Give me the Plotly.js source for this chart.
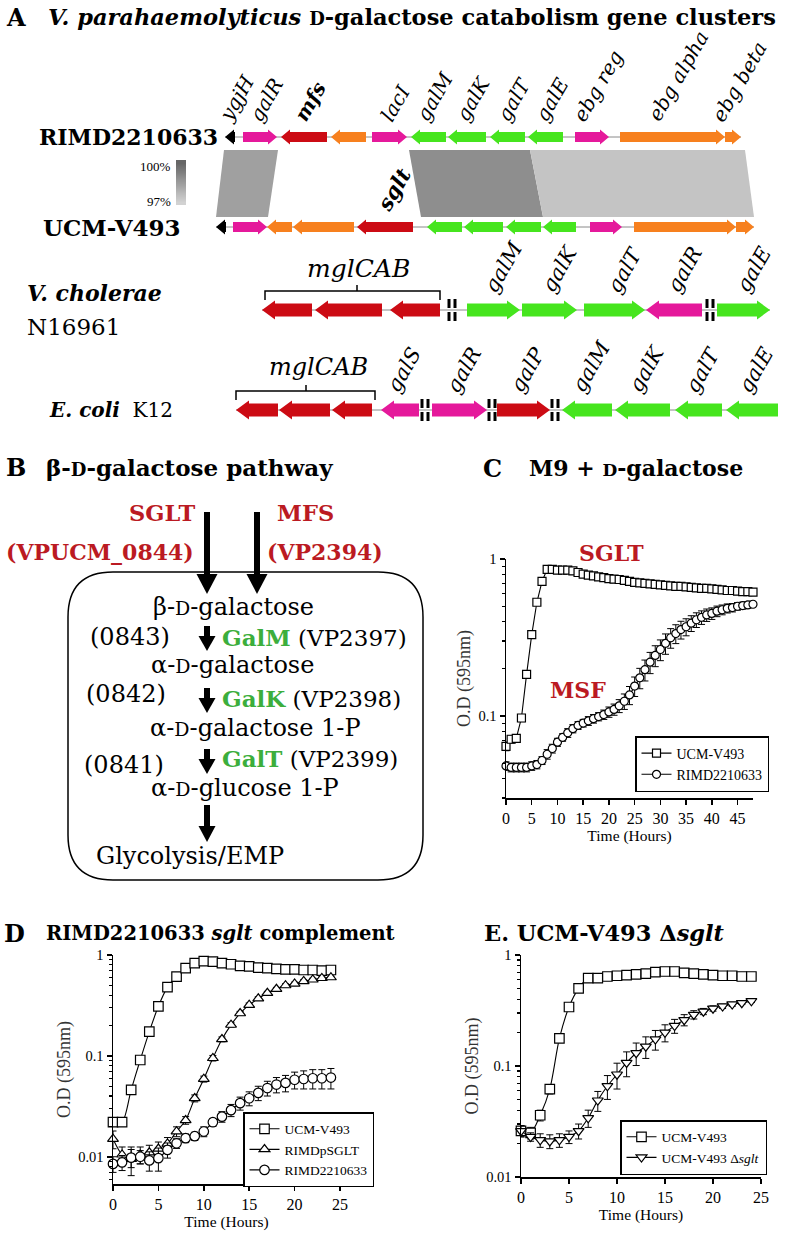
<!DOCTYPE html>
<html><head><meta charset="utf-8">
<script src="https://cdn.plot.ly/plotly-3.0.1.min.js"></script>
<style>html,body{margin:0;padding:0;background:#fff}#chart{width:787px;height:1240px}</style>
</head><body><div id="chart"></div>
<script>
// ================= DATA =================
// Panel C: M9 + D-galactose (48 h)
const hoursC = [0,1,2,3,4,5,6,7,8,9,10,11,12,13,14,15,16,17,18,19,20,21,22,23,24,25,26,27,28,29,30,31,32,33,34,35,36,37,38,39,40,41,42,43,44,45,46,47,48];
const odC_UCM = [0.064,0.071,0.072,0.097,0.184,0.33,0.53,0.72,0.86,0.86,0.85,0.85,0.85,0.84,0.82,0.80,0.79,0.78,0.77,0.76,0.75,0.745,0.74,0.73,0.72,0.71,0.705,0.70,0.695,0.69,0.685,0.68,0.675,0.67,0.67,0.665,0.66,0.655,0.65,0.65,0.645,0.64,0.635,0.63,0.63,0.625,0.62,0.62,0.615];
const errC_UCM = [0.004,0.004,0.004,0.005,0.008,0.012,0.02,0.03,0.03,0.03,0.03,0.03,0.03,0.03,0.03,0.03,0.03,0.03,0.03,0.03,0.03,0.03,0.03,0.03,0.03,0.03,0.03,0.03,0.025,0.025,0.025,0.025,0.025,0.025,0.025,0.025,0.025,0.025,0.025,0.025,0.025,0.025,0.025,0.025,0.025,0.025,0.025,0.025,0.025];
const odC_RIMD = [0.048,0.047,0.047,0.047,0.047,0.048,0.049,0.052,0.057,0.062,0.068,0.073,0.078,0.083,0.087,0.090,0.093,0.096,0.099,0.102,0.106,0.110,0.116,0.124,0.136,0.155,0.175,0.197,0.22,0.243,0.265,0.29,0.315,0.335,0.355,0.37,0.39,0.41,0.425,0.44,0.45,0.465,0.475,0.485,0.49,0.50,0.505,0.51,0.515];
const errC_RIMD = [0.003,0.003,0.003,0.003,0.003,0.003,0.003,0.003,0.004,0.004,0.004,0.004,0.005,0.005,0.005,0.005,0.006,0.006,0.006,0.007,0.008,0.009,0.011,0.014,0.018,0.022,0.026,0.03,0.034,0.037,0.04,0.043,0.045,0.046,0.046,0.046,0.045,0.044,0.042,0.04,0.038,0.036,0.034,0.032,0.03,0.028,0.026,0.025,0.024];

// Panel D: RIMD2210633 sglt complement (24 h)
const hoursD = [0,1,2,3,4,5,6,7,8,9,10,11,12,13,14,15,16,17,18,19,20,21,22,23,24];
const odD_UCM = [0.022,0.022,0.046,0.091,0.174,0.31,0.48,0.61,0.74,0.83,0.87,0.86,0.83,0.81,0.78,0.77,0.75,0.74,0.73,0.72,0.72,0.71,0.71,0.70,0.71];
const errD_UCM = [0.002,0.002,0.004,0.006,0.01,0.015,0.02,0.02,0.02,0.02,0.02,0.02,0.02,0.02,0.02,0.02,0.02,0.02,0.02,0.02,0.02,0.02,0.02,0.02,0.02];
const odD_pSGLT = [0.015,0.0105,0.0095,0.0105,0.011,0.012,0.0135,0.0178,0.023,0.038,0.059,0.095,0.146,0.203,0.264,0.32,0.37,0.42,0.46,0.50,0.52,0.55,0.57,0.59,0.60];
const errD_pSGLT = [0.003,0.002,0.003,0.002,0.002,0.002,0.002,0.002,0.002,0.003,0.004,0.006,0.008,0.01,0.012,0.014,0.015,0.016,0.017,0.018,0.018,0.018,0.018,0.018,0.018];
const odD_RIMD = [0.0085,0.0088,0.0098,0.01,0.0092,0.0097,0.0117,0.0136,0.0153,0.016,0.0178,0.022,0.025,0.029,0.034,0.038,0.043,0.048,0.052,0.054,0.058,0.059,0.06,0.06,0.061];
const errD_RIMD = [0.0015,0.0015,0.002,0.0015,0.002,0.0025,0.002,0.0015,0.0015,0.0015,0.002,0.002,0.003,0.004,0.005,0.006,0.007,0.008,0.009,0.01,0.011,0.012,0.013,0.013,0.014];

// Panel E: UCM-V493 Δsglt (24 h)
const hoursE = [0,1,2,3,4,5,6,7,8,9,10,11,12,13,14,15,16,17,18,19,20,21,22,23,24];
const odE_UCM = [0.026,0.025,0.036,0.062,0.177,0.34,0.50,0.62,0.62,0.64,0.65,0.66,0.67,0.68,0.70,0.71,0.71,0.69,0.68,0.67,0.66,0.65,0.65,0.64,0.64];
const errE_UCM = [0.003,0.003,0.004,0.006,0.01,0.02,0.03,0.02,0.02,0.02,0.02,0.02,0.02,0.02,0.02,0.02,0.02,0.02,0.02,0.02,0.02,0.02,0.02,0.02,0.02];
const odE_dSGLT = [0.026,0.023,0.0215,0.021,0.0215,0.023,0.026,0.034,0.049,0.066,0.084,0.107,0.131,0.15,0.174,0.20,0.23,0.26,0.29,0.31,0.33,0.345,0.36,0.37,0.385];
const errE_dSGLT = [0.003,0.002,0.003,0.003,0.003,0.003,0.004,0.006,0.01,0.016,0.022,0.027,0.03,0.033,0.035,0.035,0.033,0.03,0.025,0.02,0.018,0.015,0.015,0.012,0.012];

// Panel A: gene clusters (diagram coordinates)
const rimdStart = [225,243,281,331,372,411,448,490,528,575,620,725];
const rimdEnd   = [235,277,327,366,407,446,486,525,563,609,725,741];
const rimdDir   = [-1,1,-1,-1,1,-1,-1,-1,-1,1,1,1];
const rimdType  = ['misc','reg','trans','other','reg','gal','gal','gal','gal','reg','other','other'];
const rimdName  = ['ygjH','galR','mfs','','lacI','galM','galK','galT','galE','ebg reg','ebg alpha','ebg beta'];

const ucmStart = [216,233,267,293,357,427,464,506,543,590,634,736];
const ucmEnd   = [226,267,292,354,413,462,503,541,576,622,736,754];
const ucmDir   = [-1,1,-1,-1,-1,-1,-1,-1,-1,1,1,1];
const ucmType  = ['misc','reg','other','other','trans','gal','gal','gal','gal','reg','other','other'];
const ucmName  = ['','','','','sglt','','','','','','',''];

const vcStart = [262,315,390,467,522,584,646,717];
const vcEnd   = [312,382,440,520,577,645,702,770];
const vcDir   = [-1,-1,-1,1,1,1,-1,1];
const vcType  = ['trans','trans','trans','gal','gal','gal','reg','gal'];
const vcName  = ['','','','galM','galK','galT','galR','galE'];
const vcBreaks = [452,710];

const ecStart = [236,279,332,381,432,497,562,615,675,726];
const ecEnd   = [278,330,372,419,487,550,612,670,722,778];
const ecDir   = [-1,-1,-1,-1,1,1,-1,-1,-1,-1];
const ecType  = ['trans','trans','trans','reg','reg','trans','gal','gal','gal','gal'];
const ecName  = ['','','','galS','galR','galP','galM','galK','galT','galE'];
const ecBreaks = [425,492,555];

// Synteny blocks (top start/end on RIMD, bottom start/end on UCM, identity %)
const blockTopStart = [224,409,530];
const blockTopEnd   = [278,530,745];
const blockBotStart = [216,421,543];
const blockBotEnd   = [268,543,754];
const blockIdentity = [98.4,98.9,97.4];
const scaleLevels = [100,99.5,99,98.5,98,97.5,97];

// ================= STYLE =================
const SERIF = 'DejaVu Serif';
const TIMES = 'Liberation Serif';
const RED = '#bb1a22';
const GREEN = '#3cae3c';
const typeColor = {reg:'#e5199b', trans:'#cc0b14', other:'#f7801e', gal:'#46e51e', misc:'#000000'};
const grayLo = [0xd2,0xd2,0xd2], grayHi = [0x66,0x66,0x66];
function identityColor(v){
  const f = Math.max(0, Math.min(1, (v-97)/3));
  const c = grayLo.map((lo,i)=>Math.round(lo + (grayHi[i]-lo)*f));
  return `rgb(${c[0]},${c[1]},${c[2]})`;
}

const shapes = [];
const annotations = [];
function ann(x, y, text, o){
  o = o || {};
  const font = Object.assign({family:SERIF, size:24, color:'#000'}, o.font || {});
  const a = Object.assign({xref:'x4', yref:'y4', x:x, y:y, text:text, showarrow:false,
    xanchor:'center', yanchor:'middle'}, o);
  a.font = font;
  return a;
}
function arrowPath(s, e, dir, y, b, hh, hl){
  const len = e - s;
  if (len <= hl){
    return dir>0 ? `M${s},${y-hh} L${e},${y} L${s},${y+hh} Z` : `M${e},${y-hh} L${s},${y} L${e},${y+hh} Z`;
  }
  if (dir>0){
    const k = e - hl;
    return `M${s},${y-b} L${k},${y-b} L${k},${y-hh} L${e},${y} L${k},${y+hh} L${k},${y+b} L${s},${y+b} Z`;
  }
  const k = s + hl;
  return `M${e},${y-b} L${k},${y-b} L${k},${y-hh} L${s},${y} L${k},${y+hh} L${k},${y+b} L${e},${y+b} Z`;
}
function line(x0,y0,x1,y1,color,w){
  shapes.push({type:'line', xref:'x4', yref:'y4', x0:x0, y0:y0, x1:x1, y1:y1, line:{color:color, width:w}});
}
function geneRow(starts, ends, dirs, types, names, y, dims, labelSize, boldNames, dx){
  line(Math.min(...starts), y, Math.max(...ends), y, '#8a8a8a', 1);
  for (let i=0;i<starts.length;i++){
    shapes.push({type:'path', xref:'x4', yref:'y4', path:arrowPath(starts[i], ends[i], dirs[i], y, dims.b, dims.hh, dims.hl),
      fillcolor:typeColor[types[i]], line:{width:0}});
    if (names[i]){
      const bold = boldNames.indexOf(names[i])>=0;
      const t = bold ? `<b><i>${names[i]}</i></b>` : `<i>${names[i]}</i>`;
      annotations.push(ann((starts[i]+ends[i])/2 + dx, y - dims.hh - 1, t,
        {textangle:-60, xanchor:'center', yanchor:'bottom', font:{family:SERIF, size:labelSize}}));
    }
  }
}
function breaks(xs, y, half){
  xs.forEach(c=>{
    [[c-4.5,c-1.5],[c+1.5,c+4.5]].forEach(([a,b])=>{
      shapes.push({type:'rect', xref:'x4', yref:'y4', x0:a, x1:b, y0:y-half, y1:y-2, fillcolor:'#000', line:{width:0}});
      shapes.push({type:'rect', xref:'x4', yref:'y4', x0:a, x1:b, y0:y+2, y1:y+half, fillcolor:'#000', line:{width:0}});
    });
  });
}
function bracket(x0, x1, yTop, yBot, xc){
  shapes.push({type:'path', xref:'x4', yref:'y4', path:`M${x0},${yBot} L${x0},${yTop} L${x1},${yTop} L${x1},${yBot} M${xc},${yTop} L${xc},${yTop-6}`,
    line:{color:'#000', width:1.5}});
}

// ---------- Panel A ----------
const ROW1 = 137, ROW2 = 227, ROW3 = 310, ROW4 = 410;
for (let i=0;i<blockIdentity.length;i++){
  shapes.push({type:'path', xref:'x4', yref:'y4', layer:'below',
    path:`M${blockTopStart[i]},150 L${blockTopEnd[i]},150 L${blockBotEnd[i]},217 L${blockBotStart[i]},217 Z`,
    fillcolor:identityColor(blockIdentity[i]), line:{width:0}});
}
const small = {b:5, hh:7.5, hl:9};
const big = {b:6.5, hh:9.5, hl:13};
geneRow(rimdStart, rimdEnd, rimdDir, rimdType, rimdName, ROW1, small, 20, ['mfs'], 6);
geneRow(ucmStart, ucmEnd, ucmDir, ucmType, ucmName, ROW2, small, 21, ['sglt'], 8);
geneRow(vcStart, vcEnd, vcDir, vcType, vcName, ROW3, big, 21, [], 10);
geneRow(ecStart, ecEnd, ecDir, ecType, ecName, ROW4, big, 21, [], 4);
breaks(vcBreaks, ROW3, 11);
breaks(ecBreaks, ROW4, 11);
bracket(265, 440, 291, 300, 357);
bracket(236, 375, 391, 400, 306);

annotations.push(ann(4, 17, '<b>A</b>', {xanchor:'left', font:{size:24}}));
annotations.push(ann(46, 17, '<b><i>V. parahaemolyticus</i> <span style="font-size:18px">D</span>-galactose catabolism gene clusters</b>', {xanchor:'left', font:{size:22.5}}));
annotations.push(ann(220, ROW1, '<b>RIMD2210633</b>', {xanchor:'right', font:{size:22}}));
annotations.push(ann(183, ROW2, '<b>UCM-V493</b>', {xanchor:'right', font:{size:23}}));
annotations.push(ann(25, 293, '<b><i>V. cholerae</i></b>', {xanchor:'left', font:{size:22}}));
annotations.push(ann(25, 327, 'N16961', {xanchor:'left', font:{size:23}}));
annotations.push(ann(47, ROW4, '<b><i>E. coli</i></b>  K12', {xanchor:'left', font:{size:20}}));
annotations.push(ann(358, 268, '<i>mglCAB</i>', {font:{size:25}}));
annotations.push(ann(318, 367, '<i>mglCAB</i>', {font:{size:24}}));
annotations.push(ann(173, 166, '100%', {xanchor:'right', font:{family:TIMES, size:13}}));
annotations.push(ann(173, 201, '97%', {xanchor:'right', font:{family:TIMES, size:13}}));

const scaleEdges = [];
for (let i=0;i<=scaleLevels.length;i++) scaleEdges.push(160 + i*45/scaleLevels.length);

// ---------- Panel B ----------
annotations.push(ann(4, 467, '<b>B</b>', {xanchor:'left', font:{size:24}}));
annotations.push(ann(44, 467, '<b>β-<span style="font-size:18px">D</span>-galactose pathway</b>', {xanchor:'left', font:{size:23}}));
annotations.push(ann(162, 513, '<b>SGLT</b>', {font:{size:22.5, color:RED}}));
annotations.push(ann(100, 552, '<b>(VPUCM_0844)</b>', {font:{size:22, color:RED}}));
annotations.push(ann(305, 513, '<b>MFS</b>', {font:{size:22.5, color:RED}}));
annotations.push(ann(325, 552, '<b>(VP2394)</b>', {font:{size:22, color:RED}}));
shapes.push({type:'path', xref:'x4', yref:'y4', path:'M113,572 L378,572 Q423,572 423,617 L423,835 Q423,880 378,880 L113,880 Q68,880 68,835 L68,617 Q68,572 113,572 Z', line:{color:'#000', width:1.5}});
function bigArrow(x, y0, y1, hw, hlen, sw){
  shapes.push({type:'line', xref:'x4', yref:'y4', x0:x, x1:x, y0:y0, y1:y1-hlen+1, line:{color:'#000', width:sw}});
  shapes.push({type:'path', xref:'x4', yref:'y4', path:`M${x-hw},${y1-hlen} L${x+hw},${y1-hlen} L${x},${y1} Z`, fillcolor:'#000', line:{width:0}});
}
bigArrow(207, 512, 594, 10.5, 20, 6);
bigArrow(257, 512, 594, 10.5, 20, 6);
bigArrow(207, 626, 651, 8.5, 15, 6);
bigArrow(207, 688, 713, 8.5, 15, 6);
bigArrow(207, 749, 774, 8.5, 15, 6);
bigArrow(207, 805, 842, 8.5, 16, 6);
const smD = '<span style="font-size:19px">D</span>';
annotations.push(ann(233, 607, 'β-'+smD+'-galactose'));
annotations.push(ann(130, 637, '(0843)'));
annotations.push(ann(220, 637, `<span style="color:${GREEN}"><b>GalM</b></span> (VP2397)`, {xanchor:'left', font:{size:23}}));
annotations.push(ann(232, 665, 'α-'+smD+'-galactose'));
annotations.push(ann(126, 694, '(0842)'));
annotations.push(ann(220, 698, `<span style="color:${GREEN}"><b>GalK</b></span> (VP2398)`, {xanchor:'left', font:{size:23}}));
annotations.push(ann(255, 728, 'α-'+smD+'-galactose 1-P'));
annotations.push(ann(124, 765, '(0841)'));
annotations.push(ann(220, 758, `<span style="color:${GREEN}"><b>GalT</b></span> (VP2399)`, {xanchor:'left', font:{size:23}}));
annotations.push(ann(245, 788, 'α-'+smD+'-glucose 1-P'));
annotations.push(ann(190, 856, 'Glycolysis/EMP'));

// ---------- Titles C, D, E ----------
annotations.push(ann(481, 468, '<b>C</b>', {xanchor:'left', font:{size:24}}));
annotations.push(ann(527, 468, '<b>M9 + <span style="font-size:17px">D</span>-galactose</b>', {xanchor:'left', font:{size:22}}));
annotations.push(ann(2, 933, '<b>D</b>', {xanchor:'left', font:{size:24}}));
annotations.push(ann(44, 933, '<b>RIMD2210633 <i>sglt</i> complement</b>', {xanchor:'left', font:{size:19.5}}));
annotations.push(ann(482, 933, '<b>E. UCM-V493 Δ<i>sglt</i></b>', {xanchor:'left', font:{size:22.5}}));
annotations.push(ann(611, 553, '<b>SGLT</b>', {font:{size:22, color:RED}}));
annotations.push(ann(578, 690, '<b>MSF</b>', {font:{size:22, color:RED}}));

// ================= TRACES =================
function series(x, y, err, name, symbol, xa, ya, leg, shape, msize){
  return {x:x, y:y, type:'scatter', mode:'lines+markers', name:name, xaxis:xa, yaxis:ya, legend:leg, cliponaxis:false,
    line:{color:'#000', width:1.1, shape:shape, smoothing:0.8},
    marker:{symbol:symbol, size:msize, color:'#fff', line:{color:'#000', width:1.2}},
    error_y:{type:'data', array:err, visible:true, color:'#000', thickness:1, width:3.5}};
}
const traces = [
  series(hoursC, odC_UCM, errC_UCM, 'UCM-V493', 'square', 'x', 'y', 'legend', 'linear', 8),
  series(hoursC, odC_RIMD, errC_RIMD, 'RIMD2210633', 'circle', 'x', 'y', 'legend', 'linear', 8),
  series(hoursD, odD_UCM, errD_UCM, 'UCM-V493', 'square', 'x2', 'y2', 'legend2', 'spline', 9.5),
  series(hoursD, odD_pSGLT, errD_pSGLT, 'RIMDpSGLT', 'triangle-up', 'x2', 'y2', 'legend2', 'spline', 9.5),
  series(hoursD, odD_RIMD, errD_RIMD, 'RIMD2210633', 'circle', 'x2', 'y2', 'legend2', 'spline', 9.5),
  series(hoursE, odE_UCM, errE_UCM, 'UCM-V493', 'square', 'x3', 'y3', 'legend3', 'spline', 9.5),
  series(hoursE, odE_dSGLT, errE_dSGLT, 'UCM-V493 Δ<i>sglt</i>', 'triangle-down', 'x3', 'y3', 'legend3', 'spline', 9.5),
  {type:'heatmap', xaxis:'x4', yaxis:'y4', x:[176,186], y:scaleEdges, z:scaleLevels.map(v=>[v]),
   zmin:97, zmax:100, colorscale:[[0,'rgb(210,210,210)'],[1,'rgb(102,102,102)']], showscale:false, zsmooth:'best', hoverinfo:'skip'}
];

// ================= LAYOUT =================
const W = 787, H = 1240;
function xDom(a,b){return [a/W, b/W];}
function yDom(top,bot){return [1-bot/H, 1-top/H];}
function xAx(dom, anchor, range, tickvals, title){
  return {domain:dom, anchor:anchor, range:range, tickvals:tickvals, ticks:'outside', ticklen:5, tickwidth:1.5, tickcolor:'#000',
    showline:true, linecolor:'#000', linewidth:1.5, showgrid:false, zeroline:false, fixedrange:true,
    tickfont:{family:TIMES, size:16, color:'#000'},
    title:{text:title, font:{family:TIMES, size:15.5, color:'#000'}, standoff:2}};
}
function yAx(dom, anchor, range, tickvals, minorvals){
  return {type:'log', domain:dom, anchor:anchor, range:range, tickvals:tickvals, ticktext:tickvals.map(String),
    ticks:'outside', ticklen:5, tickwidth:1.5, tickcolor:'#000', showline:true, linecolor:'#000', linewidth:1.5,
    showgrid:false, zeroline:false, fixedrange:true,
    minor:{tickvals:minorvals, ticks:'outside', ticklen:3, tickwidth:1.2, tickcolor:'#000', showgrid:false},
    tickfont:{family:TIMES, size:14.5, color:'#000'},
    title:{text:'O.D (595nm)', font:{family:TIMES, size:18, color:'#333'}, standoff:3}};
}
const minorDec = [0.006,0.007,0.008,0.009,0.02,0.03,0.04,0.05,0.06,0.07,0.08,0.09,0.2,0.3,0.4,0.5,0.6,0.7,0.8,0.9];
const legBase = {bordercolor:'#000', borderwidth:1.5, bgcolor:'#fff', font:{family:TIMES, size:13.5, color:'#000'},
  xanchor:'left', yanchor:'top', tracegroupgap:0, itemwidth:30, traceorder:'normal'};

const layout = {
  width:W, height:H, margin:{l:0,r:0,t:0,b:0}, paper_bgcolor:'#fff', plot_bgcolor:'rgba(0,0,0,0)',
  font:{family:TIMES, color:'#000'},
  showlegend:true, hovermode:false,
  xaxis: xAx(xDom(506,753), 'y', [0,48], [0,5,10,15,20,25,30,35,40,45], 'Time (Hours)'),
  yaxis: yAx(yDom(559,798), 'x', [-1.523,0], [0.1,1], minorDec),
  xaxis2: xAx(xDom(113,340), 'y2', [0,25], [0,5,10,15,20,25], 'Time (Hours)'),
  yaxis2: yAx(yDom(955,1184), 'x2', [-2.27,0], [0.01,0.1,1], minorDec),
  xaxis3: xAx(xDom(521,761), 'y3', [0,25], [0,5,10,15,20,25], 'Time (Hours)'),
  yaxis3: yAx(yDom(955,1177), 'x3', [-2,0], [0.01,0.1,1], minorDec),
  xaxis4: {domain:[0,1], anchor:'y4', range:[0,W], visible:false, fixedrange:true},
  yaxis4: {domain:[0,1], anchor:'x4', range:[H,0], visible:false, fixedrange:true},
  legend: Object.assign({}, legBase, {x:635/W, y:1-736/H, font:{family:TIMES, size:14, color:'#000'}}),
  legend2: Object.assign({}, legBase, {x:243/W, y:1-1112/H}),
  legend3: Object.assign({}, legBase, {x:620/W, y:1-1120/H}),
  shapes:shapes, annotations:annotations
};
Plotly.newPlot('chart', traces, layout, {staticPlot:true, displayModeBar:false});
</script></body></html>
